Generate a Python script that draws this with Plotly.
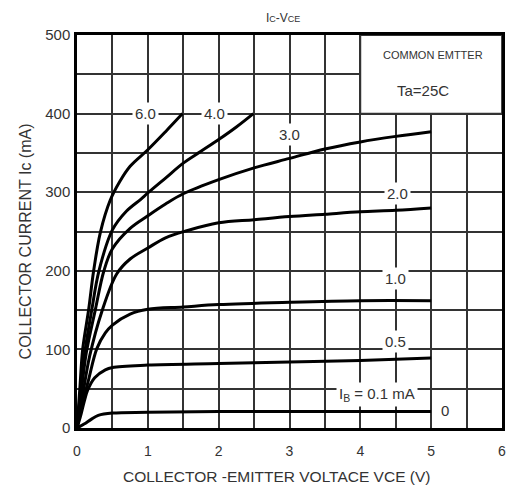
import plotly.graph_objects as go

# ---- data ----
x_ib60 = [0, 0.04, 0.08, 0.165, 0.235, 0.33, 0.47, 0.6, 0.75, 1.0, 1.25, 1.49]
y_ib60 = [0, 50, 100, 151, 200, 249, 290, 313, 333, 354, 377, 400]

x_ib40 = [0, 0.05, 0.1, 0.21, 0.31, 0.5, 0.7, 0.9, 1.0, 1.25, 1.5, 1.75, 2.0, 2.25, 2.49]
y_ib40 = [0, 45, 90, 151, 200, 252, 276, 291, 299, 318, 337, 352, 367, 383, 400]

x_ib30 = [0, 0.06, 0.13, 0.26, 0.38, 0.5, 0.75, 1.0, 1.25, 1.5, 2.0, 2.5, 3.0, 3.5, 4.0, 4.5, 5.0]
y_ib30 = [0, 45, 95, 151, 200, 228, 254, 270, 285, 298, 316, 331, 343, 355, 364, 371, 377]

x_ib20 = [0, 0.08, 0.18, 0.35, 0.56, 0.75, 1.0, 1.25, 1.55, 2.0, 2.5, 3.0, 3.5, 4.0, 4.5, 5.0]
y_ib20 = [0, 42, 92, 148, 196, 215, 229, 242, 251, 261, 265, 269, 272, 275, 277, 280]

x_ib10 = [0, 0.06, 0.165, 0.28, 0.4, 0.5, 0.75, 1.0, 1.5, 2.0, 3.0, 4.0, 5.0]
y_ib10 = [0, 25, 62, 101, 121, 131, 145, 151, 154, 157, 160, 162, 162]

x_ib05 = [0, 0.05, 0.1, 0.15, 0.25, 0.4, 0.5, 1.0, 2.0, 3.0, 4.0, 5.0]
y_ib05 = [0, 15, 33, 48, 64, 74, 77, 80, 82, 84, 86, 89]

x_ib01 = [0, 0.1, 0.2, 0.3, 0.5, 1.0, 2.0, 5.0]
y_ib01 = [0, 5, 11, 16, 19, 20, 21, 21]

x_tickvals = [0, 1, 2, 3, 4, 5, 6]
x_ticktext = ["0", "1", "2", "3", "4", "5", "6"]
y_tickvals = [0, 100, 200, 300, 400, 500]
y_ticktext = ["0", "100", "200", "300", "400", "500"]

curve_labels = ["6.0", "4.0", "3.0", "2.0", "1.0", "0.5", "I<sub>B</sub> = 0.1 mA", "0"]
label_x = [0.97, 1.94, 3.0, 4.52, 4.5, 4.5, 4.23, 5.2]
label_y = [400, 400, 373, 298, 190, 110, 43, 22]
label_bg = [True, True, True, True, True, True, True, False]

SANS = "Liberation Sans, Arial, sans-serif"
GRAY = "#333333"
TXT = "#333"

fig = go.Figure()
for xs, ys in [(x_ib60, y_ib60), (x_ib40, y_ib40), (x_ib30, y_ib30), (x_ib20, y_ib20),
               (x_ib10, y_ib10), (x_ib05, y_ib05), (x_ib01, y_ib01)]:
    fig.add_trace(go.Scatter(x=xs, y=ys, mode="lines",
                             line=dict(color="black", width=3, shape="spline", smoothing=1.0),
                             showlegend=False, hoverinfo="skip"))

# blank box for the annotation text (top-right)
fig.add_shape(type="rect", xref="x", yref="y", x0=4, x1=6, y0=400, y1=500,
              fillcolor="white", line=dict(color=GRAY, width=1.8), layer="above")

for t, lx, ly, bg in zip(curve_labels, label_x, label_y, label_bg):
    fig.add_annotation(x=lx, y=ly, xref="x", yref="y", text=t, showarrow=False,
                       font=dict(family=SANS, size=15, color=TXT),
                       bgcolor="white" if bg else "rgba(0,0,0,0)", borderpad=2)

fig.add_annotation(x=5.03, y=475, xref="x", yref="y", text="COMMON EMTTER", showarrow=False,
                   font=dict(family=SANS, size=11, color=TXT))
fig.add_annotation(x=4.89, y=430, xref="x", yref="y", text="Ta=25C", showarrow=False,
                   font=dict(family=SANS, size=15, color=TXT))

# title and axis titles
fig.add_annotation(x=0.484, y=1.066, xref="paper", yref="paper", showarrow=False,
                   text="I<span style='font-size:9px'>C</span>-V<span style='font-size:9px'>CE</span>",
                   font=dict(family=SANS, size=12, color=TXT))
fig.add_annotation(x=0.469, y=-0.149, xref="paper", yref="paper", showarrow=False,
                   text="COLLECTOR -EMITTER VOLTACE VCE (V)",
                   font=dict(family=SANS, size=15.5, color=TXT))
fig.add_annotation(x=-0.146, y=0.476, xref="paper", yref="paper", showarrow=False, textangle=-90,
                   text="COLLECTOR CURRENT Ic (mA)",
                   font=dict(family=SANS, size=16, color=TXT))

grid = dict(showgrid=True, gridcolor=GRAY, gridwidth=1.8)
fig.update_layout(
    width=507, height=502,
    margin=dict(l=77, r=5, t=35, b=73.5),
    paper_bgcolor="white", plot_bgcolor="white",
    xaxis=dict(range=[0, 6], tickmode="array", tickvals=x_tickvals, ticktext=x_ticktext,
               minor=dict(dtick=0.5, tick0=0, **grid), **grid,
               zeroline=False, automargin=False,
               showline=True, linecolor="black", linewidth=2.5, mirror=True, ticks="",
               ticklabelstandoff=8,
               tickfont=dict(family=SANS, size=14, color=TXT)),
    yaxis=dict(range=[0, 500], tickmode="array", tickvals=y_tickvals, ticktext=y_ticktext,
               minor=dict(dtick=50, tick0=0, **grid), **grid,
               zeroline=False, automargin=False,
               showline=True, linecolor="black", linewidth=2.5, mirror=True, ticks="",
               ticklabelstandoff=1,
               tickfont=dict(family=SANS, size=15, color=TXT)),
)

# remove the page's default body margin and scrollbars so the figure fills the window
fig.write_html("out.html",
               config={"displayModeBar": False},
               post_script="document.body.style.margin='0';"
                           "document.documentElement.style.overflow='hidden';"
                           "document.body.style.overflow='hidden';")
